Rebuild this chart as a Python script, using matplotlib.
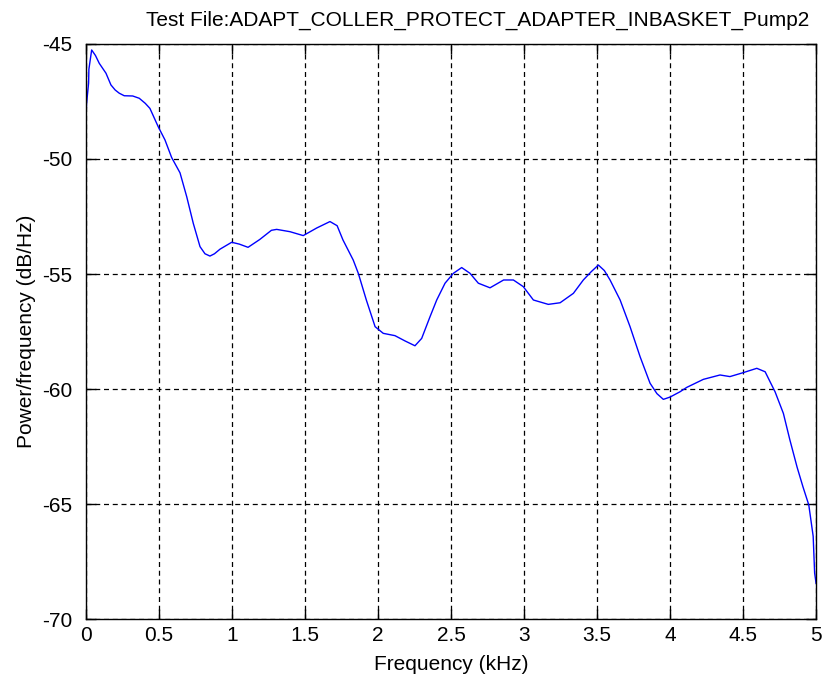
import matplotlib
matplotlib.use("Agg")
import matplotlib.pyplot as plt

# Power spectral density estimate of the pump signal
freq_khz = [0.0, 0.004, 0.018, 0.02, 0.039, 0.065, 0.091, 0.137, 0.171, 0.2, 0.228, 0.262, 0.32,
            0.365, 0.406, 0.438, 0.495, 0.541, 0.587, 0.644, 0.69, 0.735, 0.781, 0.815,
            0.849, 0.88, 0.918, 0.998, 1.05, 1.11, 1.19, 1.27, 1.306, 1.397, 1.488, 1.58,
            1.671, 1.72, 1.76, 1.83, 1.865, 1.92, 1.98, 2.036, 2.116, 2.185,
            2.253, 2.299, 2.356, 2.402, 2.459, 2.516, 2.573, 2.63, 2.687, 2.767,
            2.86, 2.927, 2.995, 3.064, 3.166, 3.247, 3.338, 3.406, 3.46, 3.509, 3.55, 3.589,
            3.658, 3.726, 3.795, 3.863, 3.91, 3.954, 4.0, 4.068, 4.114, 4.228, 4.342, 4.41,
            4.5, 4.594, 4.651, 4.719, 4.776, 4.82, 4.87, 4.91, 4.95, 4.98, 4.99, 5.0]
psd_db = [-48.2, -47.6, -46.7, -46.1, -45.26, -45.5, -45.84, -46.27, -46.78, -47.0, -47.14, -47.25, -47.26,
          -47.36, -47.58, -47.8, -48.6, -49.17, -49.94, -50.6, -51.64, -52.8, -53.81, -54.12,
          -54.22, -54.12, -53.92, -53.62, -53.7, -53.84, -53.5, -53.1, -53.06, -53.16, -53.33, -53.0,
          -52.72, -52.9, -53.52, -54.39, -54.97, -56.13, -57.29, -57.58, -57.68, -57.91,
          -58.12, -57.8, -56.86, -56.13, -55.4, -54.97, -54.72, -54.97, -55.4, -55.6,
          -55.26, -55.26, -55.55, -56.13, -56.32, -56.25, -55.84, -55.26, -54.9, -54.61, -54.85, -55.26,
          -56.13, -57.29, -58.6, -59.75, -60.2, -60.45, -60.35, -60.12, -59.93, -59.58, -59.39, -59.46,
          -59.29, -59.1, -59.25, -60.12, -61.06, -62.2, -63.4, -64.25, -65.04, -66.4, -68.0, -68.45]

x_ticks = [0, 0.5, 1, 1.5, 2, 2.5, 3, 3.5, 4, 4.5, 5]
x_tick_labels = ["0", "0.5", "1", "1.5", "2", "2.5", "3", "3.5", "4", "4.5", "5"]
y_ticks = [-70, -65, -60, -55, -50, -45]
y_tick_labels = ["-70", "-65", "-60", "-55", "-50", "-45"]

plt.rcParams["font.family"] = ["Liberation Sans", "DejaVu Sans"]

fig = plt.figure(figsize=(8.25, 6.81), dpi=100)
ax = fig.add_axes([0.1042, 0.0910, 0.885, 0.8444])

ax.plot(freq_khz, psd_db, color=(0, 0, 1), linewidth=1.0)

ax.set_xlim(0, 5)
ax.set_ylim(-70, -45)
ax.set_xticks(x_ticks)
ax.set_xticklabels(x_tick_labels)
ax.set_yticks(y_ticks)
ax.set_yticklabels(y_tick_labels)

ax.grid(True, color="black", linestyle=(0, (4, 3)), linewidth=0.9)
ax.tick_params(direction="in", length=7, width=1, top=True, right=True,
               labelsize=15)
ax.tick_params(axis="x", pad=5)
ax.tick_params(axis="y", pad=10)
for side in ax.spines.values():
    side.set_linewidth(1.0)
    side.set_color("black")

ax.set_title("Test File:ADAPT_COLLER_PROTECT_ADAPTER_INBASKET_Pump2",
             fontsize=15, pad=13, x=0.536)
ax.set_xlabel("Frequency (kHz)", fontsize=15, labelpad=7)
ax.set_ylabel("Power/frequency (dB/Hz)", fontsize=15, labelpad=4)

fig.savefig("out.png", dpi=100)
